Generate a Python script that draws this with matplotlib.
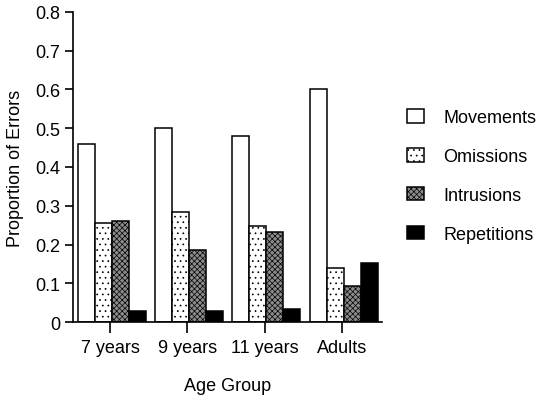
import matplotlib
matplotlib.use("Agg")
import matplotlib.pyplot as plt
import numpy as np
from matplotlib.ticker import FuncFormatter

plt.rcParams['font.family'] = ['Liberation Sans', 'DejaVu Sans']
plt.rcParams['hatch.linewidth'] = 0.5

groups = ["7 years", "9 years", "11 years", "Adults"]
series = ["Movements", "Omissions", "Intrusions", "Repetitions"]
movements = [0.46, 0.50, 0.48, 0.60]
omissions = [0.255, 0.283, 0.248, 0.14]
intrusions = [0.26, 0.186, 0.233, 0.093]
repetitions = [0.028, 0.028, 0.033, 0.152]
values = [movements, omissions, intrusions, repetitions]

styles = [
    dict(facecolor="white", hatch=None),
    dict(facecolor="white", hatch="..."),
    dict(facecolor="#8c8c8c", hatch="xxxxxx"),
    dict(facecolor="black", hatch=None),
]

fig = plt.figure(figsize=(5.4, 4.02), dpi=100)
ax = fig.add_axes([0.1352, 0.1965, 0.5722, 0.7712])

x = np.arange(len(groups))
w = 0.22
start = -0.42
handles = []
for i, (name, vals, st) in enumerate(zip(series, values, styles)):
    b = ax.bar(x + start + i * w, vals, width=w, align="edge",
               facecolor=st["facecolor"], hatch=st["hatch"],
               edgecolor="black", linewidth=1.1, label=name)
    handles.append(b)

ax.set_xlim(-0.479, 3.517)
ax.set_ylim(0, 0.8)
ax.set_yticks(np.arange(0, 0.81, 0.1))
ax.yaxis.set_major_formatter(FuncFormatter(lambda v, p: "0" if abs(v) < 1e-9 else f"{v:.1f}"))
ax.set_xticks(x)
ax.set_xticklabels(groups)
for s in ["top", "right"]:
    ax.spines[s].set_visible(False)
for s in ["left", "bottom"]:
    ax.spines[s].set_linewidth(1.2)
ax.tick_params(axis="both", direction="out", length=6, width=1.2, labelsize=13, pad=3)
ax.tick_params(axis="x", length=8, pad=4)

ax.set_xlabel("Age Group", fontsize=13, labelpad=15)
ax.set_ylabel("Proportion of Errors", fontsize=13, labelpad=8)

fig.legend(handles=handles, labels=series, loc="center left",
           bbox_to_anchor=(407 / 540, 1 - 177 / 402), frameon=False,
           fontsize=13, handlelength=0.95, handleheight=0.78,
           handletextpad=1.05, labelspacing=1.2, borderpad=0, borderaxespad=0)

fig.savefig("out.png", dpi=100)
